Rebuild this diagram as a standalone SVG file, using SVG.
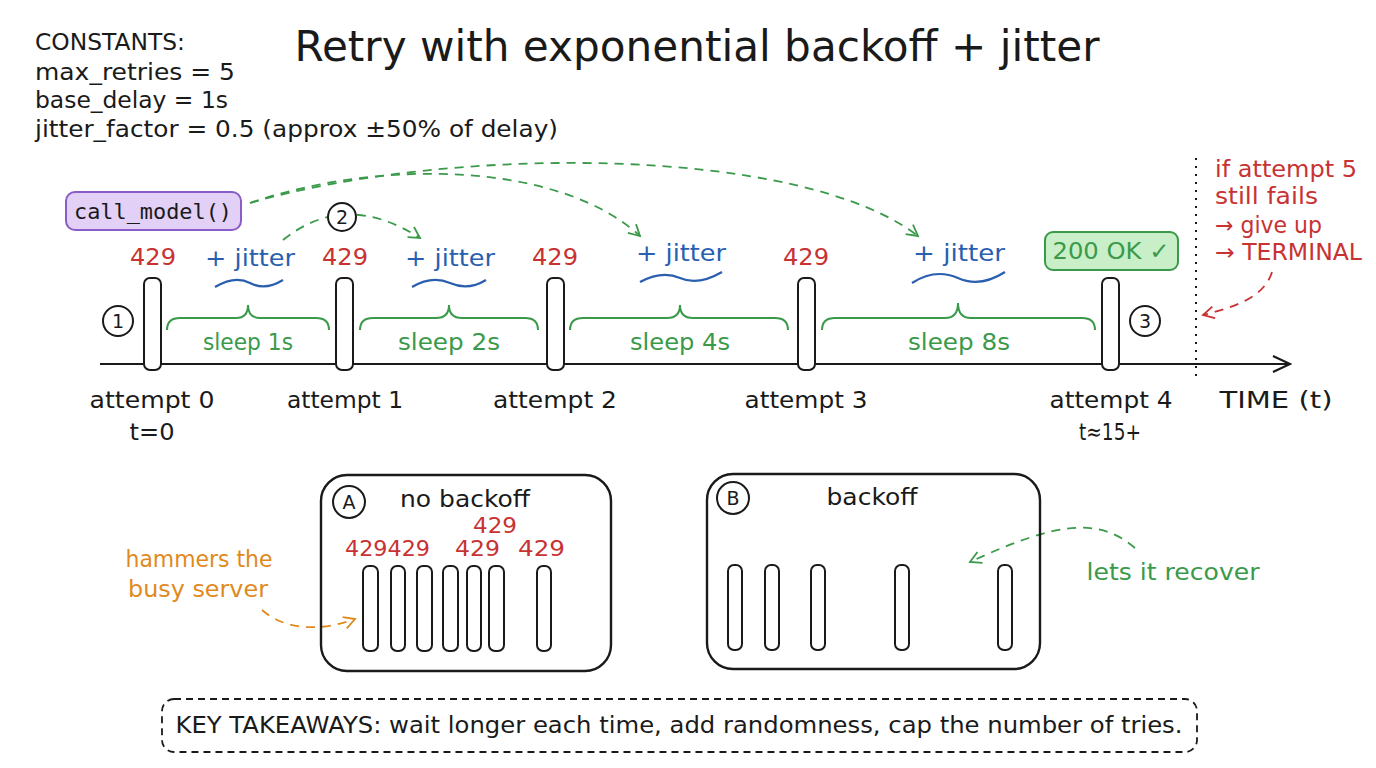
<svg xmlns="http://www.w3.org/2000/svg" width="1376" height="768" viewBox="0 0 1376 768">
<style>
text{font-family:"DejaVu Sans","Liberation Sans",sans-serif;}
.k{fill:#1a1a1a;font-size:23px;}
.red{fill:#c83232;font-size:23px;}
.blue{fill:#2a5fb0;font-size:23px;}
.green{fill:#3a9a4a;font-size:23px;}
.orange{fill:#e08a1e;font-size:23px;}
.bar{fill:#fff;stroke:#1a1a1a;stroke-width:2;}
.circ{fill:#fff;stroke:#1a1a1a;stroke-width:2;}
.num{font-size:19px;fill:#1a1a1a;text-anchor:middle;}
.mid{text-anchor:middle;}
.gdash{fill:none;stroke:#3a9a4a;stroke-width:1.8;stroke-dasharray:9 7;}
.brace{fill:none;stroke:#3a9a4a;stroke-width:2;}
.wave{fill:none;stroke:#2a5fb0;stroke-width:2.2;}
.panel{fill:none;stroke:#1a1a1a;stroke-width:2.4;}
</style>
<defs>
<marker id="ag" markerWidth="14" markerHeight="14" refX="12" refY="7" orient="auto" markerUnits="userSpaceOnUse"><path d="M1,1 L12,7 L1,13" fill="none" stroke="#3a9a4a" stroke-width="1.8"/></marker>
<marker id="ar" markerWidth="14" markerHeight="14" refX="12" refY="7" orient="auto" markerUnits="userSpaceOnUse"><path d="M1,1 L12,7 L1,13" fill="none" stroke="#c83232" stroke-width="1.8"/></marker>
<marker id="ao" markerWidth="14" markerHeight="14" refX="12" refY="7" orient="auto" markerUnits="userSpaceOnUse"><path d="M1,1 L12,7 L1,13" fill="none" stroke="#e08a1e" stroke-width="1.8"/></marker>
<marker id="ak" markerWidth="20" markerHeight="20" refX="18" refY="10" orient="auto" markerUnits="userSpaceOnUse"><path d="M1,2 L18,10 L1,18" fill="none" stroke="#1a1a1a" stroke-width="2.2"/></marker>
</defs>
<rect width="1376" height="768" fill="#fff"/>

<g id="title"><text x="697" y="61" class="mid" style="font-size:43px;fill:#1a1a1a" textLength="805" lengthAdjust="spacingAndGlyphs">Retry with exponential backoff + jitter</text></g>

<g id="constants">
<text x="35" y="50" class="k" textLength="150" lengthAdjust="spacingAndGlyphs">CONSTANTS:</text>
<text x="35" y="80" class="k" textLength="200" lengthAdjust="spacingAndGlyphs">max_retries = 5</text>
<text x="35" y="108" class="k" textLength="193" lengthAdjust="spacingAndGlyphs">base_delay = 1s</text>
<text x="35" y="137" class="k" textLength="523" lengthAdjust="spacingAndGlyphs">jitter_factor = 0.5 (approx ±50% of delay)</text>
</g>

<g id="axis">
<line x1="100" y1="364" x2="1290" y2="364" stroke="#1a1a1a" stroke-width="2.2" marker-end="url(#ak)"/>
<text x="1276" y="408" class="k mid" textLength="113" lengthAdjust="spacingAndGlyphs">TIME (t)</text>
</g>

<g id="terminal-line"><line x1="1196" y1="158" x2="1196" y2="382" stroke="#1a1a1a" stroke-width="2" stroke-dasharray="2 6"/></g>

<g id="connectors">
<path class="gdash" d="M250,203 C380,158 560,162 640,236" marker-end="url(#ag)"/>
<path class="gdash" d="M250,203 C450,145 800,145 918,236" marker-end="url(#ag)"/>
<path class="gdash" d="M283,240 Q345,190 420,238" marker-end="url(#ag)"/>
<path d="M1272,272 C1265,295 1240,306 1203,315" fill="none" stroke="#c83232" stroke-width="1.8" stroke-dasharray="9 7" marker-end="url(#ar)"/>
<path d="M262,610 C285,630 320,632 355,619" fill="none" stroke="#e08a1e" stroke-width="1.8" stroke-dasharray="9 7" marker-end="url(#ao)"/>
<path class="gdash" d="M1135,548 C1100,518 1060,520 970,562" marker-end="url(#ag)"/>
</g>

<g id="call-model">
<rect x="66" y="192" width="175" height="38" rx="9" fill="#e2d0f7" stroke="#8a5cc8" stroke-width="2"/>
<text x="153" y="219" class="mid" style="font-family:'DejaVu Sans Mono','Liberation Mono',monospace;font-size:22px;fill:#1a1a1a" textLength="158" lengthAdjust="spacingAndGlyphs">call_model()</text>
</g>

<g id="marker-1"><circle cx="118" cy="321" r="15" class="circ"/><text x="118" y="328" class="num">1</text></g>
<g id="marker-2"><circle cx="342" cy="217" r="14" class="circ"/><text x="342" y="224" class="num">2</text></g>
<g id="marker-3"><circle cx="1145" cy="321" r="15" class="circ"/><text x="1145" y="328" class="num">3</text></g>

<g id="attempt-0">
<rect x="144" y="278" width="17" height="92" rx="6" class="bar"/>
<text x="153" y="265" class="red mid" textLength="46" lengthAdjust="spacingAndGlyphs">429</text>
<text x="152" y="408" class="k mid" textLength="125" lengthAdjust="spacingAndGlyphs">attempt 0</text>
<text x="152" y="440" class="k mid" textLength="45" lengthAdjust="spacingAndGlyphs">t=0</text>
</g>
<g id="attempt-1">
<rect x="336" y="278" width="17" height="92" rx="6" class="bar"/>
<text x="345" y="265" class="red mid" textLength="46" lengthAdjust="spacingAndGlyphs">429</text>
<text x="345" y="408" class="k mid" textLength="116" lengthAdjust="spacingAndGlyphs">attempt 1</text>
</g>
<g id="attempt-2">
<rect x="547" y="278" width="17" height="92" rx="6" class="bar"/>
<text x="555" y="265" class="red mid" textLength="46" lengthAdjust="spacingAndGlyphs">429</text>
<text x="555" y="408" class="k mid" textLength="124" lengthAdjust="spacingAndGlyphs">attempt 2</text>
</g>
<g id="attempt-3">
<rect x="798" y="278" width="17" height="92" rx="6" class="bar"/>
<text x="806" y="265" class="red mid" textLength="46" lengthAdjust="spacingAndGlyphs">429</text>
<text x="806" y="408" class="k mid" textLength="123" lengthAdjust="spacingAndGlyphs">attempt 3</text>
</g>
<g id="attempt-4">
<rect x="1102" y="278" width="17" height="92" rx="6" class="bar"/>
<text x="1111" y="408" class="k mid" textLength="123" lengthAdjust="spacingAndGlyphs">attempt 4</text>
<text x="1110" y="440" class="k mid" textLength="62" lengthAdjust="spacingAndGlyphs">t≈15+</text>
</g>

<g id="ok-200">
<rect x="1045" y="232" width="133" height="38" rx="8" fill="#c8efc8" stroke="#3a9a4a" stroke-width="2"/>
<text x="1111" y="259" class="green mid" textLength="117" lengthAdjust="spacingAndGlyphs">200 OK ✓</text>
</g>

<g id="sleep-1">
<text x="250" y="266" class="blue mid" textLength="90" lengthAdjust="spacingAndGlyphs">+ jitter</text>
<path class="wave" d="M215,287 Q235,275 250,283 Q265,291 283,280"/>
<path class="brace" d="M167,330 Q167,318 180,318 L236,318 Q248,318 248,305 Q248,318 260,318 L316,318 Q329,318 329,330"/>
<text x="248" y="350" class="green mid" textLength="90" lengthAdjust="spacingAndGlyphs">sleep 1s</text>
</g>
<g id="sleep-2">
<text x="450" y="266" class="blue mid" textLength="90" lengthAdjust="spacingAndGlyphs">+ jitter</text>
<path class="wave" d="M412,287 Q432,275 450,283 Q468,291 486,280"/>
<path class="brace" d="M360,330 Q360,318 373,318 L436,318 Q449,318 449,305 Q449,318 462,318 L525,318 Q538,318 538,330"/>
<text x="449" y="350" class="green mid" textLength="102" lengthAdjust="spacingAndGlyphs">sleep 2s</text>
</g>
<g id="sleep-4">
<text x="681" y="261" class="blue mid" textLength="90" lengthAdjust="spacingAndGlyphs">+ jitter</text>
<path class="wave" d="M640,282 Q662,270 680,278 Q698,286 722,272"/>
<path class="brace" d="M570,330 Q570,318 583,318 L667,318 Q680,318 680,305 Q680,318 693,318 L775,318 Q788,318 788,330"/>
<text x="680" y="350" class="green mid" textLength="100" lengthAdjust="spacingAndGlyphs">sleep 4s</text>
</g>
<g id="sleep-8">
<text x="959" y="261" class="blue mid" textLength="92" lengthAdjust="spacingAndGlyphs">+ jitter</text>
<path class="wave" d="M912,283 Q935,268 958,278 Q980,288 1005,272"/>
<path class="brace" d="M822,330 Q822,318 835,318 L945,318 Q958,318 958,303 Q958,318 971,318 L1082,318 Q1095,318 1095,330"/>
<text x="959" y="350" class="green mid" textLength="102" lengthAdjust="spacingAndGlyphs">sleep 8s</text>
</g>

<g id="give-up-note">
<text x="1215" y="177" class="red" textLength="142" lengthAdjust="spacingAndGlyphs">if attempt 5</text>
<text x="1215" y="204" class="red" textLength="103" lengthAdjust="spacingAndGlyphs">still fails</text>
<text x="1215" y="233" class="red" textLength="107" lengthAdjust="spacingAndGlyphs">→ give up</text>
<text x="1215" y="260" class="red" textLength="147" lengthAdjust="spacingAndGlyphs">→ TERMINAL</text>
</g>

<g id="panel-a">
<rect x="321" y="475" width="290" height="196" rx="26" class="panel"/>
<circle cx="349" cy="502" r="16" class="circ"/><text x="349" y="509" class="num">A</text>
<text x="465" y="507" class="k mid" textLength="130" lengthAdjust="spacingAndGlyphs">no backoff</text>
<text x="345" y="556" class="red" style="font-size:21px" textLength="85" lengthAdjust="spacingAndGlyphs">429429</text>
<text x="455" y="556" class="red" style="font-size:21px" textLength="45" lengthAdjust="spacingAndGlyphs">429</text>
<text x="473" y="533" class="red" style="font-size:21px" textLength="44" lengthAdjust="spacingAndGlyphs">429</text>
<text x="518" y="556" class="red" style="font-size:21px" textLength="47" lengthAdjust="spacingAndGlyphs">429</text>
<rect x="363" y="566" width="15" height="85" rx="6" class="bar"/>
<rect x="391" y="566" width="14" height="85" rx="6" class="bar"/>
<rect x="417" y="566" width="15" height="85" rx="6" class="bar"/>
<rect x="443" y="566" width="15" height="85" rx="6" class="bar"/>
<rect x="467" y="566" width="14" height="85" rx="6" class="bar"/>
<rect x="489" y="566" width="15" height="85" rx="6" class="bar"/>
<rect x="537" y="566" width="14" height="85" rx="6" class="bar"/>
</g>
<g id="hammers-note">
<text x="199" y="567" class="orange mid" textLength="147" lengthAdjust="spacingAndGlyphs">hammers the</text>
<text x="198" y="597" class="orange mid" textLength="140" lengthAdjust="spacingAndGlyphs">busy server</text>
</g>

<g id="panel-b">
<rect x="707" y="474" width="333" height="195" rx="26" class="panel"/>
<circle cx="733" cy="498" r="16" class="circ"/><text x="733" y="505" class="num">B</text>
<text x="872" y="505" class="k mid" textLength="91" lengthAdjust="spacingAndGlyphs">backoff</text>
<rect x="728" y="565" width="14" height="85" rx="6" class="bar"/>
<rect x="765" y="565" width="14" height="85" rx="6" class="bar"/>
<rect x="811" y="565" width="14" height="85" rx="6" class="bar"/>
<rect x="895" y="565" width="14" height="85" rx="6" class="bar"/>
<rect x="998" y="565" width="14" height="85" rx="6" class="bar"/>
</g>
<g id="recover-note"><text x="1173" y="580" class="green mid" textLength="173" lengthAdjust="spacingAndGlyphs">lets it recover</text></g>

<g id="takeaways">
<rect x="162" y="699" width="1035" height="53" rx="12" fill="#fff" stroke="#1a1a1a" stroke-width="1.8" stroke-dasharray="7 5"/>
<text x="679" y="733" class="k mid" textLength="1007" lengthAdjust="spacingAndGlyphs">KEY TAKEAWAYS: wait longer each time, add randomness, cap the number of tries.</text>
</g>
</svg>
